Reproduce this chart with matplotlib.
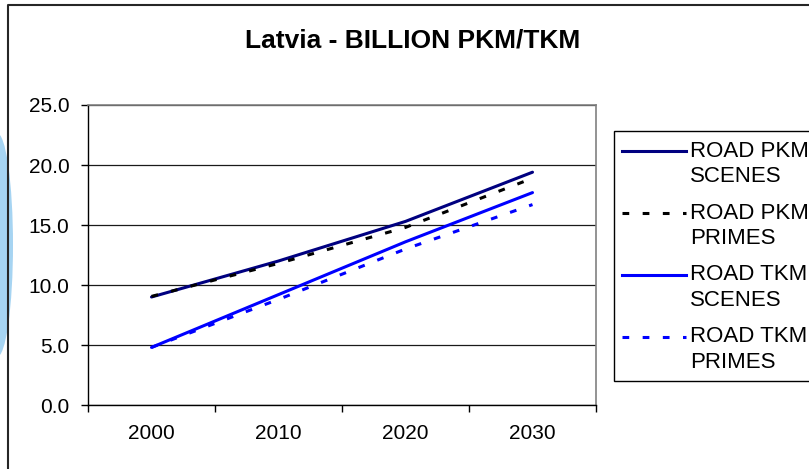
import matplotlib
matplotlib.use("Agg")
import matplotlib.pyplot as plt
from matplotlib.lines import Line2D
from matplotlib.patches import Rectangle, Ellipse
from matplotlib.ticker import FormatStrFormatter, FixedLocator

plt.rcParams['font.family'] = ['Liberation Sans', 'DejaVu Sans']

# data (billion pkm / tkm)
years = ['2000', '2010', '2020', '2030']
road_pkm_scenes = [9.0, 12.0, 15.3, 19.4]
road_pkm_primes = [9.05, 11.8, 14.8, 18.9]
road_tkm_scenes = [4.8, 9.2, 13.6, 17.7]
road_tkm_primes = [4.8, 8.8, 13.0, 16.7]

series_names = ['ROAD PKM\nSCENES', 'ROAD PKM\nPRIMES', 'ROAD TKM\nSCENES', 'ROAD TKM\nPRIMES']
series_values = [road_pkm_scenes, road_pkm_primes, road_tkm_scenes, road_tkm_primes]
series_colors = ['#000080', '#000000', '#0000ff', '#0000ff']
series_styles = ['-', (0, (2.2, 4.4)), '-', (0, (2.2, 4.4))]

W, H = 809, 469


def fx(px):
    return px / W


def fy(py):
    # pixel rows counted from the top
    return (H - py) / H


fig = plt.figure(figsize=(W / 100, H / 100), dpi=100)

# light blue shape peeking in at the left edge
fig.add_artist(Ellipse((fx(-3), fy(245)), 32 / W, 224 / H, transform=fig.transFigure,
                       facecolor='#a6d4f2', edgecolor='none', zorder=0))

# outer chart border (only top and left are visible)
fig.add_artist(Line2D([fx(8), fx(8), fx(W + 5)], [fy(H + 5), fy(5), fy(5)],
                      transform=fig.transFigure, color='#262626', lw=1.5))

ax = fig.add_axes([fx(88), fy(405), fx(596) - fx(88), fy(105) - fy(405)])
x = list(range(len(years)))
for vals, c, ls in zip(series_values, series_colors, series_styles):
    ax.plot(x, vals, color=c, linestyle=ls, lw=2.2, solid_capstyle='round', zorder=3)

ax.set_xlim(-0.5, len(years) - 0.5)
ax.set_ylim(0, 25)
ax.set_yticks([0, 5, 10, 15, 20, 25])
ax.yaxis.set_major_formatter(FormatStrFormatter('%.1f'))
ax.set_xticks(x)
ax.set_xticklabels(years)
ax.xaxis.set_minor_locator(FixedLocator([i - 0.5 for i in range(len(years) + 1)]))
ax.tick_params(axis='x', which='major', length=0, pad=13.5, labelsize=15)
ax.tick_params(axis='x', which='minor', length=5, width=1, direction='out', color='black')
ax.tick_params(axis='y', length=5, width=1, direction='out', pad=8.5, labelsize=15)

ax.grid(axis='y', color='#1a1a1a', lw=0.9)
ax.set_axisbelow(True)
for side in ['top', 'right']:
    ax.spines[side].set_color('#808080')
    ax.spines[side].set_linewidth(1.2)
for side in ['left', 'bottom']:
    ax.spines[side].set_color('black')
    ax.spines[side].set_linewidth(1.0)

fig.text(fx(413), fy(48), 'Latvia - BILLION PKM/TKM', ha='center', va='baseline',
         fontsize=19, fontweight='bold')

# legend drawn by hand so that the handle sits at the first text line
fig.add_artist(Rectangle((fx(614), fy(381)), fx(240), fy(131) - fy(381) - 1 + 1,
                         transform=fig.transFigure, facecolor='white',
                         edgecolor='black', lw=1.0, zorder=1))
for i, (name, c, ls) in enumerate(zip(series_names, series_colors, series_styles)):
    base = 156.5 + 62 * i
    fig.add_artist(Line2D([fx(622), fx(686)], [fy(base - 5.5), fy(base - 5.5)],
                          transform=fig.transFigure, color=c, linestyle=ls, lw=2.2, zorder=2))
    first, second = name.split('\n')
    fig.text(fx(690), fy(base), first, ha='left', va='baseline', fontsize=16, zorder=3)
    fig.text(fx(690), fy(base + 25.5), second, ha='left', va='baseline', fontsize=16, zorder=3)

fig.savefig('out.png', dpi=100)
